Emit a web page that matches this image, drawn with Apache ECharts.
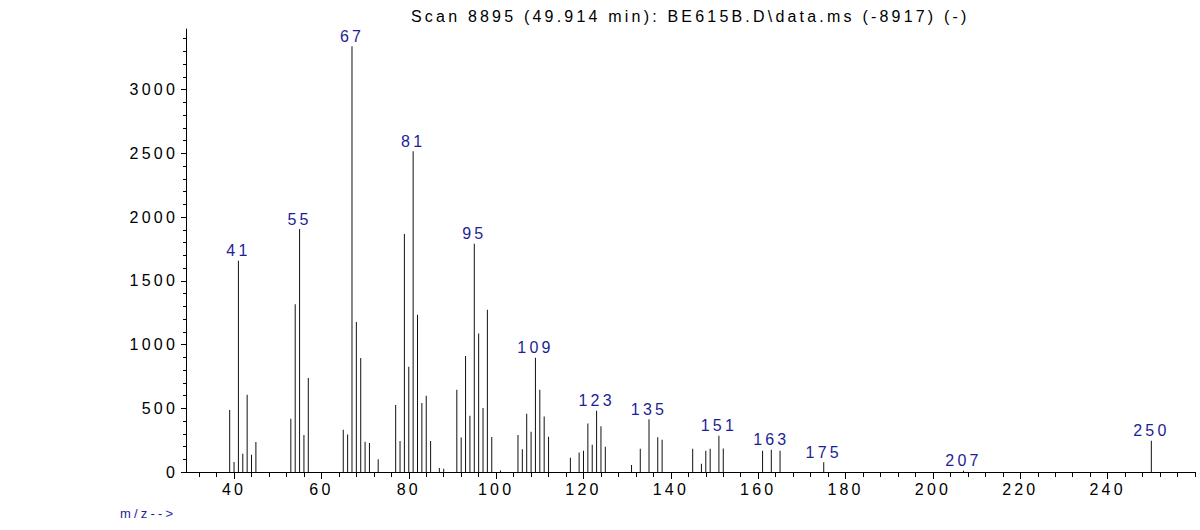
<!DOCTYPE html>
<html>
<head>
<meta charset="utf-8">
<script src="https://cdn.jsdelivr.net/npm/echarts@6/dist/echarts.min.js"></script>
<style>
  html, body { margin: 0; padding: 0; background: #fff; }
  #chart { width: 1200px; height: 530px; }
  #chart text { letter-spacing: 3.2px !important; }
</style>
</head>
<body>
<div id="chart"></div>
<script>
// ---- data ----
const titleText = "Scan 8895 (49.914 min): BE615B.D\\data.ms (-8917) (-)";
const xAxisName = "m/z-->";

const mz = [39,40,41,42,43,44,45,53,54,55,56,57,65,66,67,68,69,70,71,73,
            77,78,79,80,81,82,83,84,85,87,88,91,92,93,94,95,96,97,98,99,
            101,105,106,107,108,109,110,111,112,117,119,120,121,122,123,124,125,
            131,133,135,137,138,145,147,148,149,151,152,161,163,165,175,207,250];
const abundance = [486,78,1657,143,606,136,235,418,1315,1906,290,737,332,295,3340,1176,895,238,227,100,
                   525,243,1866,826,2517,1234,541,598,243,31,25,645,271,910,442,1790,1087,502,1273,274,
                   12,290,178,457,316,896,645,436,277,112,153,167,380,213,481,358,198,
                   55,183,413,272,253,183,65,167,183,285,185,167,175,167,76,10,245];
const labelledPeaks = [41,55,67,81,95,109,123,135,151,163,175,207,250];

const xMajorTicks = [40,60,80,100,120,140,160,180,200,220,240];
const xTickLabels = [40,60,80,100,120,140,160,180,200,220,240];
const xMinorTicks = [32,36,44,48,52,56,64,68,72,76,84,88,92,96,104,108,112,116,
                     124,128,132,136,144,148,152,156,164,168,172,176,184,188,192,196,
                     204,208,212,216,224,228,232,236,244,248,252,256,260];
const yMajorTicks = [0,500,1000,1500,2000,2500,3000];
const yTickLabels = [0,500,1000,1500,2000,2500,3000];
const yMinorTicks = [100,200,300,400,600,700,800,900,1100,1200,1300,1400,1600,1700,1800,1900,
                     2100,2200,2300,2400,2600,2700,2800,2900,3100,3200,3300,3400];

// ---- chart ----
const chart = echarts.init(document.getElementById('chart'), null, { renderer: 'svg' });
const FONT = 'Liberation Sans, Arial, sans-serif';
const barData = mz.map((m, i) => ({
  value: [m, abundance[i]],
  label: { show: labelledPeaks.indexOf(m) >= 0 }
}));

const option = {
  animation: false,
  backgroundColor: '#fff',
  title: {
    text: titleText,
    left: 411,
    top: 8,
    padding: 0,
    textStyle: { fontFamily: FONT, fontSize: 16, fontWeight: 'normal', color: '#000' }
  },
  graphic: [{
    type: 'text',
    left: 120,
    top: 507,
    style: { text: xAxisName, fontFamily: FONT, fontSize: 13, fill: '#1e1e96' }
  }],
  grid: { left: 186, right: 5, top: 29, bottom: 58, containLabel: false },
  xAxis: [{
    type: 'value', min: 29, max: 260, position: 'bottom',
    axisLine: { show: true, onZero: false, lineStyle: { color: '#000', width: 1 } },
    axisTick: { show: true, customValues: xMajorTicks, length: 7, lineStyle: { color: '#000' } },
    axisLabel: { show: true, customValues: xTickLabels, margin: 9,
                 fontFamily: FONT, fontSize: 16, color: '#000',
                 formatter: v => String(v) },
    splitLine: { show: false }
  }, {
    type: 'value', min: 29, max: 260, position: 'bottom', offset: 0,
    axisLine: { show: false },
    axisTick: { show: true, customValues: xMinorTicks, length: 5, lineStyle: { color: '#000' } },
    axisLabel: { show: false },
    splitLine: { show: false }
  }],
  yAxis: [{
    type: 'value', min: 0, max: 3475, position: 'left',
    axisLine: { show: true, onZero: false, lineStyle: { color: '#000', width: 1 } },
    axisTick: { show: true, customValues: yMajorTicks, length: 5, lineStyle: { color: '#000' } },
    axisLabel: { show: true, customValues: yTickLabels, margin: 8,
                 fontFamily: FONT, fontSize: 16, color: '#000',
                 formatter: v => String(v) },
    splitLine: { show: false }
  }, {
    type: 'value', min: 0, max: 3475, position: 'left', offset: 0,
    axisLine: { show: false },
    axisTick: { show: true, customValues: yMinorTicks, length: 3, lineStyle: { color: '#000' } },
    axisLabel: { show: false },
    splitLine: { show: false }
  }],
  series: [{
    type: 'bar',
    xAxisIndex: 0, yAxisIndex: 0,
    barWidth: 1,
    itemStyle: { color: '#111' },
    label: {
      position: 'top', distance: 2,
      fontFamily: FONT, fontSize: 16, color: '#1e1e96',
      formatter: p => String(p.value[0])
    },
    data: barData
  }]
};
chart.setOption(option);
</script>
</body>
</html>
